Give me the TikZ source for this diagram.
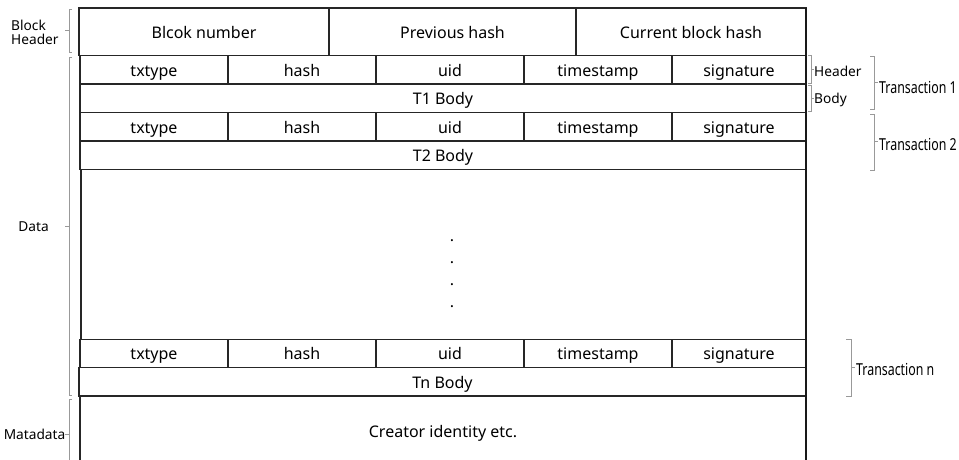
\documentclass[tikz,border=0pt]{standalone}
\usepackage{fontspec}
\setmainfont{Noto Sans}
\newfontfamily\condfont[FakeStretch=0.75]{Noto Sans}
\newcommand\TxHead[2]{%
  \node[cell,minimum width=148pt,minimum height=28.5pt] (#1a) at (154,#2) {txtype};
  \node[cell,minimum width=148pt,minimum height=28.5pt] (#1b) at (302,#2) {hash};
  \node[cell,minimum width=148pt,minimum height=28.5pt] (#1c) at (450,#2) {uid};
  \node[cell,minimum width=148pt,minimum height=28.5pt] (#1d) at (598,#2) {timestamp};
  \node[cell,minimum width=134pt,minimum height=28.5pt] (#1e) at (739,#2) {signature};
}
\begin{document}
\begin{tikzpicture}[x=1pt,y=-1pt,
  cell/.style={draw=black!85, line width=1.1pt, inner sep=0pt, outer sep=0pt,
    font=\fontsize{16}{19}\selectfont, text=black, text height=14pt, text depth=1.5pt},
  brk/.style={draw=black!40, line width=0.8pt},
  lbl/.style={font=\fontsize{13.7}{16}\selectfont, inner sep=0pt, align=left},
  tlbl/.style={font=\condfont\fontsize{16.5}{18}\selectfont, inner sep=0pt, anchor=west}]
\useasboundingbox (0,0) rectangle (959,459);
% block header
\node[cell,minimum width=250pt,minimum height=47.5pt] (bn) at (204,31.75) {Blcok number};
\node[cell,minimum width=247pt,minimum height=47.5pt] (ph) at (452.5,31.75) {Previous hash};
\node[cell,minimum width=230pt,minimum height=47.5pt] (ch) at (691,31.75) {Current block hash};
% transaction 1
\TxHead{t1}{69.75}
\node[cell,minimum width=726pt,minimum height=28.5pt] (t1body) at (443,98.25) {T1 Body};
% transaction 2
\TxHead{t2}{126.75}
\node[cell,minimum width=726pt,minimum height=28.5pt] (t2body) at (443,155.25) {T2 Body};
% middle
\coordinate (ml1) at (81,169.5);
\coordinate (ml2) at (81,339.5);
\draw[cell] (ml1) -- (ml2);
\foreach \yy/\nm in {237/d1,259/d2,281/d3,303/d4}
  \node[inner sep=0pt, font=\fontsize{16}{18}\selectfont] (\nm) at (452,\yy+4) {.};
% transaction n
\TxHead{tn}{353.5}
\node[cell,minimum width=727pt,minimum height=28.5pt] (tnbody) at (442.5,381.75) {Tn Body};
% metadata
\node[cell,minimum width=726pt,minimum height=70pt,anchor=north west] (meta) at (80,396) {Creator identity etc.};
% thick right edge
\coordinate (re1) at (806,8);
\coordinate (re2) at (806,470);
\draw[line width=2.2pt, black!90] (re1) -- (re2);
% left labels and brackets
\node[lbl, anchor=west] (lbh) at (11,32) {Block\\[-2pt]Header};
\draw[brk] (72,9) -- (69,9) -- (69,52) -- (72,52);
\draw[brk] (69,30.5) -- (64.5,30.5);
\node[lbl, anchor=east] (ldata) at (49,227) {Data};
\draw[brk] (72,57) -- (69,57) -- (69,395) -- (72,395);
\draw[brk] (69,226) -- (64.5,226);
\node[lbl, anchor=east] (lmeta) at (65.5,434) {Matadata};
\draw[brk] (72,399) -- (69,399) -- (69,465);
\draw[brk] (69,434) -- (65,434);
% right labels and brackets
\draw[brk] (808,55.5) -- (811,55.5) -- (811,83) -- (808,83);
\draw[brk] (811,69.5) -- (814,69.5);
\node[lbl, anchor=west] (rh) at (814,71) {Header};
\draw[brk] (808,85) -- (811,85) -- (811,111.5) -- (808,111.5);
\draw[brk] (811,98) -- (814,98);
\node[lbl, anchor=west] (rb) at (814,100) {Body};
\draw[brk] (870,56) -- (874,56) -- (874,109) -- (870,109);
\draw[brk] (874,82.5) -- (878,82.5);
\node[tlbl] (tr1) at (879,87) {Transaction 1};
\draw[brk] (870,114) -- (874,114) -- (874,170) -- (870,170);
\draw[brk] (874,141) -- (878,141);
\node[tlbl] (tr2) at (879,144) {Transaction 2};
\draw[brk] (846,339) -- (851,339) -- (851,396) -- (846,396);
\draw[brk] (851,367) -- (855,367);
\node[tlbl] (trn) at (856,369.5) {Transaction n};
\end{tikzpicture}
\end{document}
